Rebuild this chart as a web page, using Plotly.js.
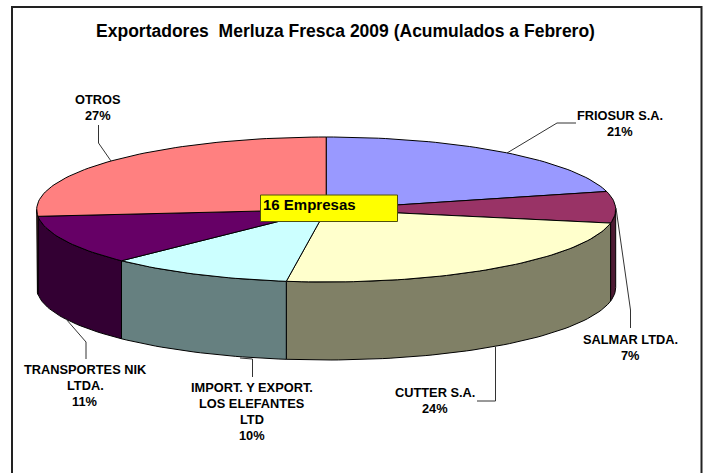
<!DOCTYPE html>
<html>
<head>
<meta charset="utf-8">
<script src="https://cdn.plot.ly/plotly-3.0.1.min.js"></script>
<style>html,body{margin:0;padding:0;background:#fff;overflow:hidden}</style>
</head>
<body>
<div id="chart" style="width:707px;height:473px"></div>
<script>
// ---- data ----
const categories = ["FRIOSUR S.A.", "SALMAR LTDA.", "CUTTER S.A.", "IMPORT. Y EXPORT. LOS ELEFANTES LTD", "TRANSPORTES NIK LTDA.", "OTROS"];
const shares = [21.0, 7.0, 24.2, 10.3, 11.0, 26.5];
const percentLabels = ["21%", "7%", "24%", "10%", "11%", "27%"];
const labelLines = [["FRIOSUR S.A."], ["SALMAR LTDA."], ["CUTTER S.A."], ["IMPORT. Y EXPORT.", "LOS ELEFANTES", "LTD"], ["TRANSPORTES NIK", "LTDA."], ["OTROS"]];
const topColors = ["#9999FF", "#993366", "#FFFFCC", "#CCFFFF", "#660066", "#FF8080"];
const wallColors = ["#4D4D80", "#4D1A33", "#808066", "#668080", "#330033", "#804040"];
const chartTitle = "Exportadores\u00A0\u00A0Merluza Fresca 2009 (Acumulados a Febrero)";
const noteText = "16 Empresas";

// ---- layout constants ----
const W = 707, H = 473;
const pie = {cx: 326.2, cy: 209.5, rx: 289.5, ry: 72.5, depth: 78};
const labelPos = [[620, 115], [630, 339], [435, 392], [252, 387], [85, 369], [98, 99]];
const lineStep = 16.2;
const leaders = [
  [[576, 557, 507], [123, 123, 153]],
  [[630.5, 630.5, 616], [328, 310, 208]],
  [[477, 495.5, 495.5], [401, 401, 347]],
  [[252.5, 252.5, 240], [377, 359, 358]],
  [[86, 86, 66], [359, 342, 319]],
  [[98.5, 98.5, 111], [125, 143, 161]]
];

function arc(t0, t1, dy) {
  const n = Math.max(2, Math.ceil(Math.abs(t1 - t0) / 1.5));
  const xs = [], ys = [];
  for (let i = 0; i <= n; i++) {
    const t = (t0 + (t1 - t0) * i / n) * Math.PI / 180;
    xs.push(pie.cx + pie.rx * Math.sin(t));
    ys.push(pie.cy - pie.ry * Math.cos(t) + dy);
  }
  return {xs, ys};
}

const total = shares.reduce((a, b) => a + b, 0);
const traces = [];
const starts = [];
let acc = 0;
shares.forEach(v => { starts.push(acc / total * 360); acc += v; });
const ends = starts.map((s, i) => s + shares[i] / total * 360);

// side walls of the front half
categories.forEach((name, i) => {
  const a = Math.max(starts[i], 90), b = Math.min(ends[i], 270);
  if (b <= a) return;
  const top = arc(a, b, 0), bot = arc(b, a, pie.depth);
  traces.push({
    type: "scatter", mode: "lines", fill: "toself", name: name,
    x: top.xs.concat(bot.xs, [top.xs[0]]),
    y: top.ys.concat(bot.ys, [top.ys[0]]),
    fillcolor: wallColors[i], line: {color: "#000", width: 1}, hoverinfo: "skip"
  });
});
// top surface
categories.forEach((name, i) => {
  const r = arc(starts[i], ends[i], 0);
  traces.push({
    type: "scatter", mode: "lines", fill: "toself", name: name,
    x: [pie.cx].concat(r.xs, [pie.cx]),
    y: [pie.cy].concat(r.ys, [pie.cy]),
    fillcolor: topColors[i], line: {color: "#000", width: 1}, hoverinfo: "skip"
  });
});
// leader lines
leaders.forEach(l => traces.push({
  type: "scatter", mode: "lines", x: l[0], y: l[1],
  line: {color: "#333", width: 1}, hoverinfo: "skip"
}));

// labels
const labelFont = {family: "Liberation Sans, Arial, sans-serif", size: 12.8, color: "#000"};
const annotations = [];
categories.forEach((name, i) => {
  const lines = labelLines[i].concat([percentLabels[i]]);
  lines.forEach((txt, k) => annotations.push({
    x: labelPos[i][0], y: labelPos[i][1] + k * lineStep, xref: "x", yref: "y",
    text: "<b>" + txt + "</b>", showarrow: false, xanchor: "center", yanchor: "middle",
    font: labelFont
  }));
});
annotations.push({
  x: 261, y: 204, xref: "x", yref: "y", text: "<b>" + noteText + "</b>", showarrow: false,
  xanchor: "left", yanchor: "middle",
  font: {family: "Liberation Sans, Arial, sans-serif", size: 15, color: "#000"}
});

const layout = {
  width: W, height: H, autosize: false, showlegend: false,
  margin: {l: 0, r: 0, t: 0, b: 0, pad: 0},
  paper_bgcolor: "#fff", plot_bgcolor: "#fff",
  title: {
    text: "<b>" + chartTitle + "</b>", x: 345.5 / W, xref: "paper", xanchor: "center",
    y: 1 - 31 / H, yref: "paper", yanchor: "middle",
    font: {family: "Liberation Sans, Arial, sans-serif", size: 17.5, color: "#000"}
  },
  xaxis: {range: [0, W], visible: false, fixedrange: true},
  yaxis: {range: [H, 0], visible: false, fixedrange: true},
  shapes: [
    {type: "rect", xref: "x", yref: "y", x0: 12, y0: 7, x1: 701.5, y1: H + 10,
     line: {color: "#222", width: 2}, fillcolor: "rgba(0,0,0,0)", layer: "below"},
    {type: "rect", xref: "x", yref: "y", x0: 260.5, y0: 195, x1: 397.5, y1: 221.5,
     line: {color: "#50500a", width: 1}, fillcolor: "#FFFF00", layer: "above"}
  ],
  annotations: annotations
};
Plotly.newPlot("chart", traces, layout, {staticPlot: true, displayModeBar: false});
</script>
</body>
</html>
